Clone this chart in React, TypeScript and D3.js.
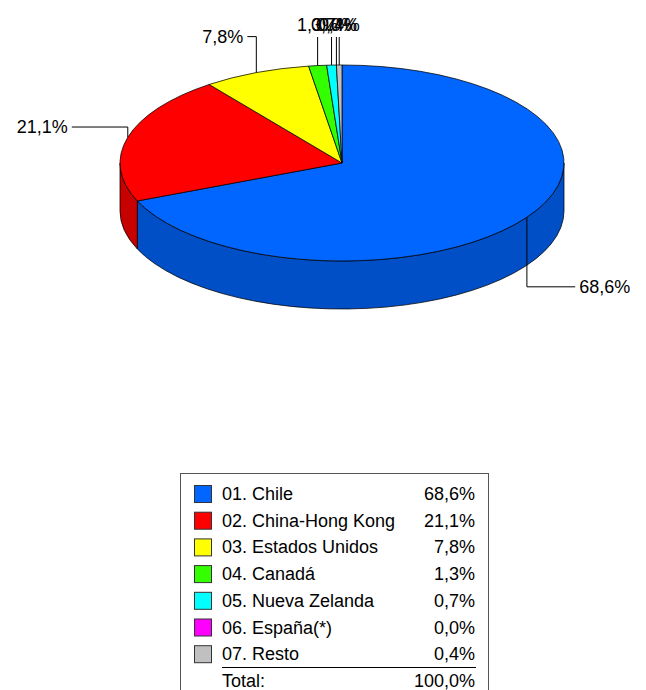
import * as d3 from 'd3';

// ---- data ----
const categories = ['01. Chile', '02. China-Hong Kong', '03. Estados Unidos', '04. Canadá', '05. Nueva Zelanda', '06. España(*)', '07. Resto'];
const values = [68.6, 21.1, 7.8, 1.3, 0.7, 0.0, 0.4];
const colors = ['#0066ff', '#ff0000', '#ffff00', '#33ff00', '#00ffff', '#ff00ff', '#c0c0c0'];
const totalText = 'Total:';
const totalValue = '100,0%';

const W = 646, H = 690;
const font = "'Liberation Sans', Arial, sans-serif";

// pie geometry
const cx = 342, cy = 163, rx = 222, ry = 98, depth = 48;

const locale = d3.formatLocale({ decimal: ',', thousands: '.', grouping: [3], currency: ['', ''] });
const fmt = (v: number) => locale.format('.1f')(v) + '%';

const pt = (a: number, dy = 0): [number, number] => [cx + rx * Math.sin(a), cy - ry * Math.cos(a) + dy];

export default function App() {
  const arcs = d3.pie<number>().sort(null).value(d => d)(values);
  const arcGen = d3.arc<d3.PieArcDatum<number>>().innerRadius(0).outerRadius(rx);

  // front side walls
  const sides = arcs.map((a, i) => {
    const s = Math.max(a.startAngle, Math.PI / 2);
    const e = Math.min(a.endAngle, Math.PI * 1.5);
    if (e <= s) return null;
    const [x1, y1] = pt(s), [x2, y2] = pt(e);
    const large = e - s > Math.PI ? 1 : 0;
    const d = `M${x1},${y1}A${rx},${ry} 0 ${large} 1 ${x2},${y2}L${x2},${y2 + depth}A${rx},${ry} 0 ${large} 0 ${x1},${y1 + depth}Z`;
    return <path key={i} d={d} fill={d3.rgb(colors[i]).darker(0.7).toString()} stroke="#000" strokeWidth={0.75} />;
  });

  // labels with leader lines
  const labels = arcs.map((a, i) => {
    const m = (a.startAngle + a.endAngle) / 2;
    const [ex, ey] = pt(m);
    const sn = Math.sin(m), cs = Math.cos(m);
    const txt = fmt(values[i]);
    if (Math.abs(ex - cx) < 40 && cs > 0) {
      const ly = cy - ry - 28;
      return (
        <g key={i}>
          <line x1={ex} y1={ey} x2={ex} y2={ly} stroke="#000" strokeWidth={1} />
          <text x={ex} y={ly - 12} textAnchor="middle" dominantBaseline="central">{txt}</text>
        </g>
      );
    }
    const ay = cy - 137 * cs + (cs < 0 ? depth : 0);
    const ax = Math.abs(sn) > 0.6 ? cx + 280 * sn : ex + (sn < 0 ? -9 : 9);
    const dir = sn < 0 ? -1 : 1;
    return (
      <g key={i}>
        <polyline points={`${ex},${ey} ${ex},${ay} ${ax},${ay}`} fill="none" stroke="#000" strokeWidth={1} />
        <text x={ax + dir * 4} y={ay} textAnchor={dir < 0 ? 'end' : 'start'} dominantBaseline="central">{txt}</text>
      </g>
    );
  });

  // legend
  const lx = 180, ly = 473, lw = 308;
  const row = d3.scaleLinear().domain([0, 1]).range([494, 494 + 26.7]);

  return (
    <svg width={W} height={H} style={{ position: 'fixed', left: 0, top: 0, background: '#fff' }}
      fontFamily={font} fontSize={18} fill="#000">
      {sides}
      <g transform={`translate(${cx},${cy}) scale(1,${ry / rx})`}>
        {arcs.map((a, i) => a.endAngle > a.startAngle ? (
          <path key={i} d={arcGen(a) || ''} fill={colors[i]} stroke="#000" strokeWidth={0.75} vectorEffect="non-scaling-stroke" />
        ) : null)}
      </g>
      {labels}
      <rect x={lx + 0.5} y={ly + 0.5} width={lw} height={H} fill="#fff" stroke="#555" strokeWidth={1} />
      {categories.map((c, i) => (
        <g key={c}>
          <rect x={194.5} y={row(i) - 8.5} width={17} height={17} fill={colors[i]} stroke="#333" strokeWidth={1} />
          <text x={222} y={row(i)} dominantBaseline="central">{c}</text>
          <text x={475} y={row(i)} textAnchor="end" dominantBaseline="central">{fmt(values[i])}</text>
        </g>
      ))}
      <line x1={222} x2={476} y1={667.5} y2={667.5} stroke="#000" strokeWidth={1} />
      <text x={222} y={row(7)} dominantBaseline="central">{totalText}</text>
      <text x={475} y={row(7)} textAnchor="end" dominantBaseline="central">{totalValue}</text>
    </svg>
  );
}
